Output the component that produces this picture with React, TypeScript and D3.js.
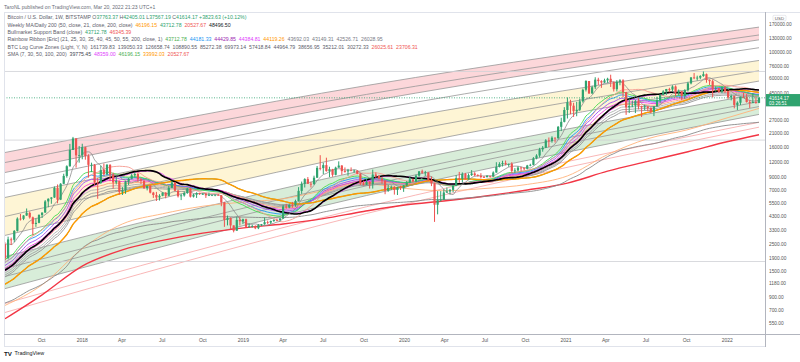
import * as d3 from "d3";

// weekly BTCUSD (Bitstamp) candles, first bar = week of 2017-07-10
const firstBar = "2017-07-10";
const firstOpen = 2505;

const closes = [
  // 2017
  1915, 2750, 2730, 3240, 4100, 4080, 4350, 4580, 4200, 3700, 3780, 4400, 4600, 5700, 6000, 6150, 7400, 5900, 8000, 9300, 11200, 15300, 19100, 13800, 13850,
  // 2018
  16150, 13650, 11500, 11500, 8200, 8100, 10400, 9600, 11500, 9550, 8200, 8450, 6850, 7050, 8350, 8800, 9400, 9650, 8700, 8500, 7350, 7700, 6750, 6450, 6150, 6350, 6750, 6350, 7400, 8200, 7000, 6300, 6400, 6700, 7300, 6250, 6500, 6700, 6600, 6600, 6400, 6420, 6420, 6480, 6400, 5600, 4000, 4150, 3600, 3250, 4000, 3900, 4050,
  // 2019
  3500, 3530, 3550, 3410, 3620, 3670, 3830, 3800, 3920, 4000, 3990, 4100, 5180, 5070, 5330, 5300, 5750, 6980, 8000, 8750, 8000, 7950, 8990, 10850, 10800, 11450, 10200, 10600, 9500, 10900, 11350, 10200, 10150, 10350, 10300, 10300, 9700, 8050, 7850, 8300, 7950, 9550, 9300, 8800, 8500, 7000, 7400, 7500, 7100, 7500, 7400, 7750,
  // 2020
  8180, 8700, 8350, 9350, 10150, 9900, 9950, 8550, 8050, 5350, 5850, 5900, 6770, 6900, 7120, 7700, 8900, 8750, 9670, 8720, 9450, 9750, 9450, 9300, 9100, 9080, 9300, 9170, 9930, 11070, 11680, 11900, 11650, 11700, 10250, 10330, 10920, 10770, 10670, 11370, 11500, 13030, 13750, 15480, 15960, 18400, 18170, 19370, 19150, 23860, 26250, 32950,
  // 2021
  38150, 35800, 32250, 33100, 38900, 48600, 57500, 45250, 51000, 59000, 57400, 55800, 58200, 60000, 56200, 49100, 56600, 58250, 46450, 34700, 35700, 35800, 39100, 35500, 34700, 35300, 34250, 31800, 35400, 39850, 43800, 47050, 49300, 48800, 51750, 46050, 47250, 43200, 48200, 54950, 61550, 60900, 61300, 63300, 65500, 58650, 57300, 49400, 50100, 46700, 50800, 47300,
  // 2022
  41850, 43100, 36300, 37900, 42400, 42200, 38400, 37700, 38400, 37763.37, 41614.17,
];

const highs = [
  2600, 2900, 2850, 3290, 4200, 4480, 4380, 4980, 4700, 4260, 4110, 4450, 4620, 5850, 6050, 6190, 7600, 7900, 8100, 9700, 11400, 17200, 19666, 19200, 16500,
  17250, 16300, 14100, 12000, 11700, 8950, 11300, 11800, 11700, 11650, 9900, 9200, 8500, 7500, 8450, 8950, 9750, 9950, 9950, 8950, 8500, 7750, 7800, 6850, 6850, 6550, 6800, 6800, 7700, 8500, 8250, 7150, 6600, 6900, 7400, 7400, 6600, 6800, 6750, 6700, 6700, 6750, 6500, 6500, 6600, 6450, 5650, 4350, 4200, 3600, 4250, 4250, 4100,
  4100, 3750, 3650, 3600, 3700, 3700, 4200, 3950, 3950, 4050, 4100, 4150, 5350, 5450, 5400, 5650, 5900, 7500, 8350, 8900, 9100, 8300, 9350, 11250, 13850, 12000, 13200, 11100, 10650, 11100, 12300, 11450, 10950, 10650, 10950, 10450, 10350, 9800, 8500, 8800, 8400, 10500, 9950, 9500, 9100, 8550, 7850, 7750, 7650, 7550, 7700, 7800,
  8450, 9200, 8850, 9550, 10200, 10500, 10250, 9950, 9200, 8150, 6950, 6950, 7200, 7450, 7250, 7800, 9450, 10050, 9950, 9850, 9750, 10400, 10000, 9600, 9800, 9300, 9450, 9350, 10150, 12100, 12100, 12450, 12500, 11800, 12100, 10800, 11200, 11100, 10950, 11500, 11750, 13350, 14100, 15950, 16500, 18850, 19450, 19900, 19450, 24250, 28400, 34800,
  41950, 40100, 37850, 38500, 40950, 49700, 58350, 57500, 52600, 61800, 61200, 58400, 60100, 61200, 64900, 57000, 58450, 59500, 59500, 46700, 40850, 39450, 40000, 41300, 35750, 36600, 35400, 34700, 35450, 42550, 44700, 48150, 49400, 50500, 52950, 52850, 48850, 47350, 49150, 56550, 62000, 67000, 63700, 64300, 69000, 66350, 59300, 59100, 51950, 50500, 52100, 52100,
  47550, 44450, 43500, 38900, 42650, 45850, 44750, 39850, 45400, 42550, 42405.01,
];

const lows = [
  1830, 1900, 2470, 2620, 3200, 3950, 3980, 4320, 4100, 2970, 3500, 3750, 4150, 4600, 5100, 5450, 6100, 5500, 5850, 7950, 9000, 11100, 15300, 10900, 12000,
  12800, 12700, 9000, 10000, 7800, 6000, 8000, 9300, 9350, 8400, 7300, 7900, 6500, 6450, 6600, 7800, 8700, 9000, 8300, 7950, 7250, 7050, 6650, 6100, 5750, 5800, 6300, 6050, 6300, 7400, 6950, 6150, 5850, 6250, 6600, 6150, 6150, 6100, 6450, 6450, 6100, 6350, 6350, 6300, 6350, 5200, 3500, 3600, 3350, 3150, 3250, 3600, 3700,
  3500, 3450, 3450, 3350, 3350, 3550, 3650, 3700, 3700, 3850, 3900, 3900, 4100, 4950, 5000, 5050, 5150, 5700, 6600, 7450, 8000, 7450, 7850, 8950, 10350, 9650, 10100, 9100, 9150, 9400, 10900, 9500, 9900, 9350, 10250, 9900, 9600, 7800, 7750, 7800, 7300, 7300, 8950, 8700, 8000, 6550, 6850, 7100, 6500, 6450, 7100, 6850,
  7650, 8100, 8250, 8300, 9150, 9700, 9300, 8450, 7650, 3850, 4450, 5700, 5850, 6750, 6550, 6800, 7650, 8150, 8200, 8700, 8650, 9300, 9250, 9200, 8850, 8950, 9050, 9000, 9150, 9900, 10950, 11150, 11400, 11100, 9850, 9850, 10200, 10150, 10400, 10550, 11200, 11400, 12800, 13250, 14800, 15950, 16200, 17600, 17650, 19000, 22000, 26000,
  28000, 30400, 28850, 29250, 32300, 37950, 47000, 44950, 45000, 49200, 53300, 50400, 55400, 55500, 51300, 47000, 47050, 52950, 42200, 30000, 31100, 34800, 31050, 33350, 28800, 32750, 32100, 31050, 29300, 35350, 37350, 43750, 43950, 46350, 46800, 42850, 43400, 39600, 40800, 46950, 53900, 59550, 58000, 59550, 62300, 55600, 53300, 42000, 46800, 45650, 45500, 45650,
  40650, 39650, 34000, 32950, 36250, 41650, 38000, 34300, 37650, 37150, 37567.19,
];

// weekly closes before the first visible bar (only feed the moving averages)
const warmupCloses = [
  665, 655, 625, 590, 570, 580, 575, 605, 608, 608, 600, 612, 617, 640, 655, 700, 705, 700, 730, 735, 765, 775, 790, 900, 995,
  905, 825, 920, 915, 1020, 1000, 1050, 1150, 1270, 1230, 970, 965, 1080, 1175, 1180, 1250, 1350, 1580, 1750, 2050, 2050, 2520, 2950, 2500, 2550, 2500, 2505,
];
const ema200Seed = 800;

// long SMAs
const smaDates = [
  "2017-07-10", "2017-10-02", "2018-01-01", "2018-04-02", "2018-07-02", "2018-10-01", "2019-01-07", "2019-04-01", "2019-07-01", "2019-09-30",
  "2020-01-06", "2020-03-30", "2020-06-29", "2020-10-05", "2021-01-04", "2021-04-05", "2021-07-05", "2021-10-04", "2022-01-03", "2022-03-14",
];
const sma100Values = [775, 1150, 2300, 3700, 4500, 5200, 5650, 6000, 7000, 8000, 7300, 7000, 7300, 7900, 9300, 14000, 19000, 22600, 28500, 33992.03];
const sma200Values = [600, 950, 1650, 2250, 2700, 3100, 3450, 3700, 4100, 4700, 5350, 5750, 6300, 7100, 8100, 10200, 12300, 14800, 18000, 20527.67];

// BTC log curve zones: 13 lines, values at three dates
const zoneDates = ["2017-07-10", "2019-10-07", "2022-03-14"];
const zoneStart = [14580, 12030, 9930, 8040, 6150, 4270, 2970, 1980, 1575, 1350, 1070, 805, 677];
const zoneMid = [52700, 44450, 38670, 32330, 25040, 19010, 14430, 10500, 8700, 7700, 6385, 5150, 4520];
const zoneEnd = [161739.83, 139050.33, 126658.74, 108890.55, 85272.38, 69973.14, 57418.84, 44964.79, 38656.95, 35212.01, 30272.33, 26025.61, 23706.31];

const levelLines = [69000, 18500, 1800];
const priceTicks = [170000, 130000, 100000, 76000, 60000, 45000, 27000, 21000, 16000, 12000, 9000, 7000, 5500, 4300, 3300, 2500, 1900, 1500, 1180, 900, 700, 550];

const ribbonPeriods = [21, 25, 30, 35, 40, 45, 50, 55];
const ribbonColors = ["#45d94f", "#2196f3", "#a24bf0", "#f03bd6", "#ffa07a", "#b0b0b0", "#a2a2a2", "#949494"];

const up = "#2fa36f";
const down = "#ef5350";
const grey = "#5d606b";

const legendRows: [string, string][][] = [
  [["Bitcoin / U.S. Dollar, 1W, BITSTAMP O", grey], ["37763.37", up], [" H", grey], ["42405.01", up], [" L", grey], ["37567.19", up], [" C", grey], ["41614.17", up], [" +3823.63 (+10.12%)", up]],
  [["Weekly MA/Daily 200 (50, close, 21, close, 200, close)  ", grey], ["46196.15", "#ff9800"], ["  43712.78", up], ["  20527.67", down], ["  48496.50", "#131722"]],
  [["Bullmarket Support Band (close)  ", grey], ["43712.78", up], ["  46345.39", down]],
  [["Rainbow Ribbon [Eric] (21, 25, 30, 35, 40, 45, 50, 55, 200, close, 1)  ", grey], ["43712.78", "#4caf50"], ["  44181.33", "#2196f3"], ["  44429.85", "#9c27b0"], ["  44384.81", "#e040fb"], ["  44119.26", "#ff9800"], ["  43692.03  43149.31  42526.71  26028.95", "#787b86"]],
  [["BTC Log Curve Zones (Light, Y, N)  ", grey], ["161739.83  139050.33  126658.74  108890.55  85272.38  69973.14  57418.84  44964.79  38656.95  35212.01  30272.33", "#5d606b"], ["  26025.61  23706.31", down]],
  [["SMA (7, 30, 50, 100, 200)  ", grey], ["39775.45", "#434651"], ["  48359.00", "#e040fb"], ["  46196.15", "#4caf50"], ["  33992.03", "#ff9800"], ["  20527.67", down]],
];

function sma(values: number[], n: number): (number | null)[] {
  return values.map((_, i) => (i < n - 1 ? null : (d3.mean(values.slice(i - n + 1, i + 1)) as number)));
}

function ema(values: number[], n: number, seed = values[0]): number[] {
  const k = 2 / (n + 1);
  let prev = seed;
  return values.map((v) => (prev = prev + k * (v - prev)));
}

const parse = d3.utcParse("%Y-%m-%d");
const start = parse(firstBar) as Date;

const bars = closes.map((c, i) => {
  const o = i === 0 ? firstOpen : closes[i - 1];
  return {
    date: d3.utcWeek.offset(start, i),
    open: o,
    close: c,
    high: Math.max(highs[i], o, c),
    low: Math.min(lows[i], o, c),
  };
});

export default function App() {
  const x = d3.scaleUtc().domain([bars[0].date, bars[bars.length - 1].date]).range([5, 759]);
  const y = d3.scaleLog().domain([550, 170000]).range([323.3, 24.5]);

  const all = warmupCloses.concat(closes);
  const off = warmupCloses.length;
  const visible = (vals: (number | null)[]) => bars.map((b, i) => [b.date, vals[i + off]] as [Date, number | null]);

  const line = d3
    .line<[Date, number | null]>()
    .defined((d) => d[1] != null)
    .x((d) => x(d[0]))
    .y((d) => y(d[1] as number))
    .curve(d3.curveMonotoneX);

  const sampled = (dates: string[], vals: number[]) => dates.map((d, i) => [parse(d) as Date, vals[i]] as [Date, number | null]);

  const zoneLine = (k: number) => sampled(zoneDates, [zoneStart[k], zoneMid[k], zoneEnd[k]]);
  const zoneArea = (a: number, b: number) =>
    d3
      .area<number>()
      .x((j) => x(parse(zoneDates[j]) as Date))
      .y0((j) => y([zoneStart[a], zoneMid[a], zoneEnd[a]][j]))
      .y1((j) => y([zoneStart[b], zoneMid[b], zoneEnd[b]][j]))
      .curve(d3.curveMonotoneX)([0, 1, 2]) as string;

  const ribbon = ribbonPeriods.map((p) => visible(ema(all, p)));
  const ema200Vals = ema(closes, 200, ema200Seed);
  const ema200 = bars.map((b, i) => [b.date, ema200Vals[i]] as [Date, number | null]);
  const sma7 = visible(sma(all, 7));
  const sma20 = visible(sma(all, 20));
  const sma29 = visible(sma(all, 29));
  const sma30 = visible(sma(all, 30));
  const sma50 = visible(sma(all, 50));

  const fmt = d3.format(".2f");
  const timeTicks = x.ticks(d3.utcMonth.every(3) as d3.TimeInterval);
  const lastClose = closes[closes.length - 1];

  const font = "Liberation Sans, Arial, sans-serif";

  return (
    <svg width={800} height={362} style={{ position: "absolute", left: 0, top: 0, background: "#fff" }} fontFamily={font}>
      <rect x={0} y={0} width={800} height={362} fill="#fff" />
      <text x={4} y={8.5} fontSize={5.1} fill="#6a6d78">
        TaroNL published on TradingView.com, Mar 20, 2022 21:23 UTC+1
      </text>

      <defs>
        <clipPath id="pane">
          <rect x={4.5} y={12.5} width={760.5} height={321.5} />
        </clipPath>
      </defs>

      <g clipPath="url(#pane)">
        <path d={zoneArea(0, 2)} fill="rgba(242,54,69,0.2)" />
        <path d={zoneArea(4, 6)} fill="rgba(251,205,45,0.2)" />
        <path d={zoneArea(7, 10)} fill="rgba(76,175,80,0.22)" />
        {zoneEnd.map((_, k) => (
          <path key={k} d={line(zoneLine(k)) as string} fill="none" stroke={k >= 11 ? "#f7a5a5" : "#979797"} strokeWidth={0.8} />
        ))}
        {levelLines.map((p) => (
          <line key={p} x1={4} x2={765} y1={y(p)} y2={y(p)} stroke="#cfd1d6" strokeWidth={0.8} />
        ))}

        <path d={line(sampled(smaDates, sma200Values)) as string} fill="none" stroke="#f23645" strokeWidth={1.4} />
        <path d={line(sampled(smaDates, sma100Values)) as string} fill="none" stroke="#ffb27a" strokeWidth={0.9} />
        <path d={line(ema200) as string} fill="none" stroke="#8a8a8a" strokeWidth={0.9} />

        {ribbon
          .map((r, i) => (
            <path key={i} d={line(r) as string} fill="none" stroke={ribbonColors[i]} strokeWidth={0.9} />
          ))
          .reverse()}
        <path d={line(sma20) as string} fill="none" stroke="#f59a8f" strokeWidth={0.9} />
        <path d={line(sma30) as string} fill="none" stroke="#e040fb" strokeWidth={0.9} />
        <path d={line(sma50) as string} fill="none" stroke="#4caf50" strokeWidth={0.9} />
        <path d={line(sma50) as string} fill="none" stroke="#ff9800" strokeWidth={1.4} />
        <path d={line(sma29) as string} fill="none" stroke="#000" strokeWidth={1.6} />
        <path d={line(sma7) as string} fill="none" stroke="#8c8c8c" strokeWidth={0.8} />

        {bars.map((b, i) => {
          const cx = x(b.date);
          const col = b.close >= b.open ? up : down;
          const top = y(Math.max(b.open, b.close));
          const bot = y(Math.min(b.open, b.close));
          return (
            <g key={i}>
              <rect x={cx - 0.5} y={y(b.high)} width={1} height={y(b.low) - y(b.high)} fill={col} />
              <rect x={cx - 1.1} y={top} width={2.2} height={Math.max(0.8, bot - top)} fill={col} />
            </g>
          );
        })}

        <line x1={4} x2={765} y1={y(lastClose)} y2={y(lastClose)} stroke={up} strokeWidth={0.8} strokeDasharray="1,1.5" />
      </g>

      {legendRows.map((row, r) => (
        <text key={r} x={7.5} y={19.4 + r * 7.3} fontSize={5.2} style={{ whiteSpace: "pre" }}>
          {row.map(([t, c], j) => (
            <tspan key={j} fill={c}>
              {t}
            </tspan>
          ))}
        </text>
      ))}

      {/* frame */}
      <line x1={4} x2={800} y1={12.5} y2={12.5} stroke="#e0e3eb" />
      <line x1={4.5} x2={4.5} y1={12} y2={346.5} stroke="#e0e3eb" />
      <line x1={4} x2={800} y1={334.5} y2={334.5} stroke="#b2b5be" />
      <line x1={4} x2={765} y1={346.5} y2={346.5} stroke="#e0e3eb" />
      <line x1={765.5} x2={765.5} y1={12} y2={347} stroke="#b2b5be" />

      {/* price axis */}
      <rect x={773} y={15.3} width={13} height={5.6} rx={1} fill="#fff" stroke="#d1d4dc" strokeWidth={0.5} />
      <text x={779.5} y={19.6} fontSize={4.4} fill="#555" textAnchor="middle">
        USD
      </text>
      {priceTicks.map((p) => (
        <text key={p} x={769} y={y(p)} dy="0.35em" fontSize={4.8} fill="#555">
          {fmt(p)}
        </text>
      ))}
      <rect x={766} y={y(lastClose) - 3.8} width={34} height={12.3} fill={up} />
      <text x={769} y={y(lastClose)} dy="0.35em" fontSize={4.8} fill="#fff">
        {fmt(lastClose)}
      </text>
      <text x={769} y={y(lastClose) + 5.2} dy="0.35em" fontSize={4.6} fill="#fff">
        03:26:51
      </text>

      {/* time axis */}
      {timeTicks.map((t) => (
        <text key={+t} x={x(t)} y={341.8} fontSize={5} fill="#555" textAnchor="middle">
          {t.getUTCMonth() === 0 ? d3.utcFormat("%Y")(t) : d3.utcFormat("%b")(t)}
        </text>
      ))}

      <text x={4} y={355.5} fontSize={6.2} fontWeight={700} fill="#131722">
        TV
      </text>
      <text x={14.5} y={355.3} fontSize={5.4} fill="#131722">
        TradingView
      </text>
    </svg>
  );
}
